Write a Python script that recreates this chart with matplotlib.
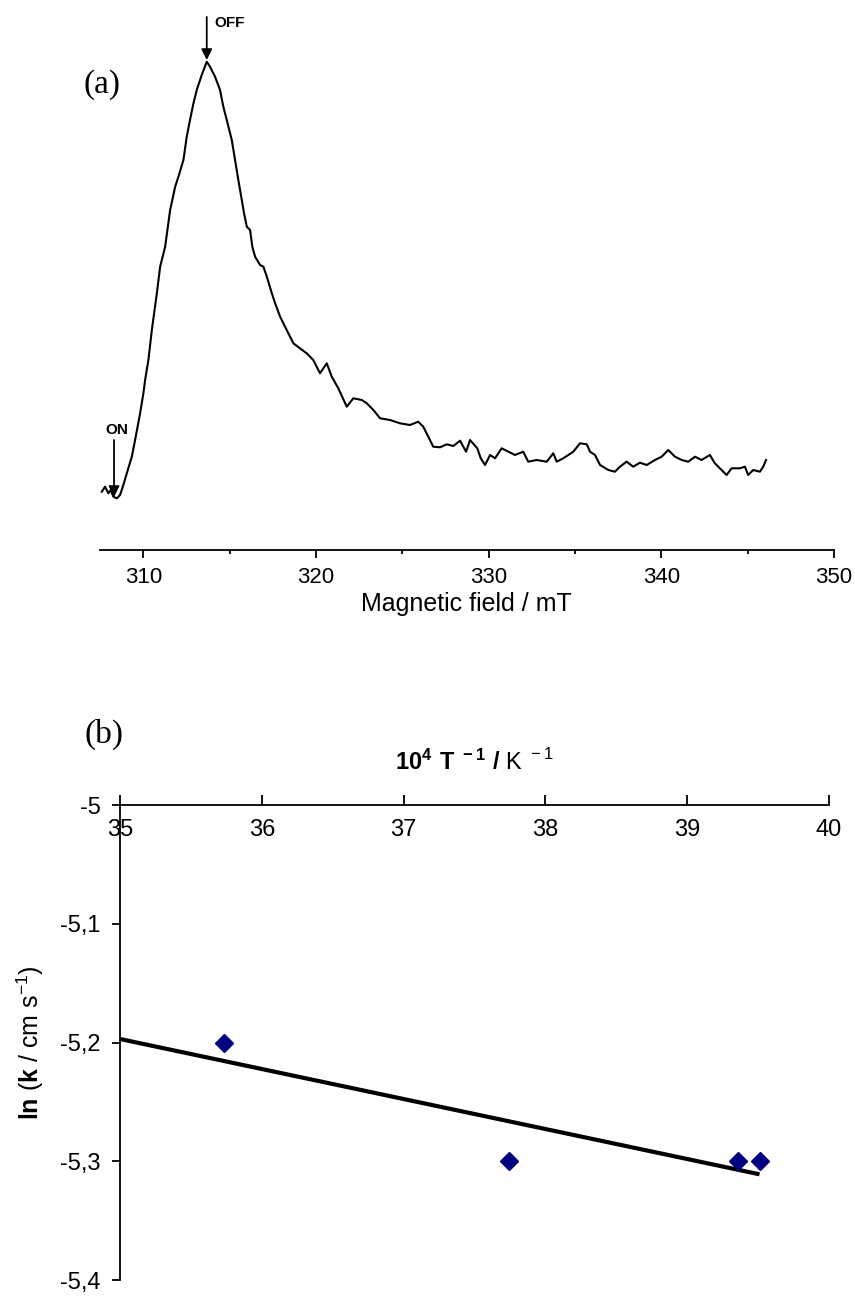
import numpy as np
import matplotlib.pyplot as plt
from matplotlib.ticker import MultipleLocator, FuncFormatter

plt.rcParams['font.family'] = ['Liberation Sans', 'DejaVu Sans']
plt.rcParams['mathtext.fontset'] = 'custom'
plt.rcParams['mathtext.rm'] = 'Liberation Sans'
plt.rcParams['mathtext.bf'] = 'Liberation Sans:bold'

# (a) signal vs magnetic field (arbitrary units)
field = [307.59, 307.78, 307.97, 308.11, 308.26, 308.46, 308.65, 308.84, 309.04, 309.33,
         309.52, 309.81, 310.00, 310.10, 310.29, 310.49, 310.78, 310.97, 311.26, 311.55,
         311.84, 312.03, 312.32, 312.51, 312.70, 312.90, 313.09, 313.38, 313.67,
         313.86, 314.15, 314.44, 314.63, 314.83, 315.12, 315.31, 315.50, 315.70, 315.83,
         315.99, 316.18, 316.31, 316.47, 316.76, 316.95, 317.15, 317.44, 317.63, 317.92,
         318.30, 318.69, 319.07, 319.46, 319.84, 320.23, 320.62, 320.91, 321.29, 321.78,
         322.16, 322.65, 322.94, 323.32, 323.71, 324.29,
         324.86, 325.44, 325.92, 326.21, 326.50, 326.79, 327.18, 327.57, 327.95, 328.34,
         328.69, 328.92, 329.34, 329.54, 329.79, 330.08, 330.37, 330.75, 331.14, 331.52,
         332.00, 332.29, 332.78, 333.36, 333.74, 333.94, 334.32, 334.90, 335.29, 335.68,
         335.87, 336.16, 336.45, 336.93, 337.31, 337.60, 337.99, 338.37, 338.76, 339.15,
         339.63, 340.02, 340.40, 340.79, 341.18, 341.56, 341.95, 342.33, 342.81, 343.10,
         343.39, 343.78, 344.07, 344.55, 344.84, 345.03, 345.32, 345.71, 345.90, 346.06]
signal = [57.3, 62.3, 55.7, 59, 52.3, 50.7, 54, 64, 75.7, 92.3,
          109, 135.7, 155.7, 169, 189, 219, 255.7, 282.3, 302.3, 339,
          362.3, 372.3, 389, 412.3, 429, 445.7, 459, 474, 487.3,
          482.3, 472.3, 459, 442.3, 429, 409, 389, 369, 349, 335.7,
          322.3, 319, 302.3, 292.3, 284, 282.3, 272.3, 255.7, 245.7, 232.3,
          219, 205.7, 200.7, 195.7, 189, 175.7, 185.7, 172.3, 160.7, 142.3,
          150.7, 149, 145.7, 139, 130.7, 129,
          125.7, 124, 127.3, 122.3, 112.3, 102.3, 101.7, 104.7, 103, 108.3,
          97.3, 109, 100.7, 90.7, 84, 94, 90.7, 100.7, 97.3, 94,
          97.3, 87.3, 89, 87.3, 95.7, 87.3, 90.7, 97.3, 105.7, 104.7,
          97.3, 94, 84, 79, 77.3, 82.3, 87.3, 82.3, 86.3, 84,
          89, 92.3, 99, 92.3, 89, 87.3, 92.3, 89, 94, 85.7,
          80.7, 74, 80.7, 80.7, 82.3, 74, 79, 77.3, 82.3, 89]

on_field, off_field = 308.30, 313.67

# (b) ln k vs 10^4/T
inv_T = [35.73, 37.74, 39.36, 39.51]
ln_k = [-5.2, -5.3, -5.3, -5.3]

W, H = 855, 1296
fig = plt.figure(figsize=(W / 100, H / 100), dpi=100)

# ---- panel (a)
axa = fig.add_axes([99.7 / W, 1 - 550 / H, (834 - 99.7) / W, 550 / H])
axa.plot(field, signal, color='k', lw=1.5)
axa.set_xlim(307.47, 350)
axa.set_ylim(-1, 549)
for s in ['left', 'right', 'top']:
    axa.spines[s].set_visible(False)
axa.spines['bottom'].set_linewidth(1.3)
axa.set_yticks([])
axa.xaxis.set_major_locator(MultipleLocator(10))
axa.xaxis.set_minor_locator(MultipleLocator(5))
axa.tick_params(axis='x', which='major', direction='out', length=6, width=1.3, labelsize=16, pad=6)
axa.tick_params(axis='x', which='minor', direction='out', length=3, width=1.3)
axa.set_xlabel('Magnetic field / mT', fontsize=18, labelpad=3)

arrow = dict(arrowstyle='-|>', color='k', lw=1.3, mutation_scale=16, shrinkA=0, shrinkB=0)
axa.annotate('', xy=(off_field, 489), xytext=(off_field, 532), arrowprops=arrow)
axa.annotate('', xy=(on_field, 52), xytext=(on_field, 109), arrowprops=arrow)
axa.text(off_field + 0.45, 526, 'OFF', fontsize=11, fontweight='bold', va='center', ha='left')
axa.text(on_field + 0.15, 112, 'ON', fontsize=11, fontweight='bold', va='bottom', ha='center')

fig.text(102 / W, 1 - 85 / H, '(a)', fontsize=24, family='Liberation Serif', ha='center', va='center')

# ---- panel (b)
axb = fig.add_axes([120 / W, 1 - 1280 / H, 709 / W, 475 / H])
axb.plot(inv_T, ln_k, 'D', color='#000080', ms=9, mec='#000080', zorder=3)
fit = np.polyfit(inv_T, ln_k, 1)
xs = np.array([35, max(inv_T)])
axb.plot(xs, np.polyval(fit, xs), color='k', lw=3, solid_capstyle='butt')
axb.set_xlim(35, 40)
axb.set_ylim(-5.4, -5)
axb.spines['right'].set_visible(False)
axb.spines['top'].set_visible(False)
axb.spines['bottom'].set_position(('data', -5))
axb.spines['bottom'].set_linewidth(1.3)
axb.spines['left'].set_linewidth(1.3)
axb.xaxis.set_major_locator(MultipleLocator(1))
axb.yaxis.set_major_locator(MultipleLocator(0.1))
axb.yaxis.set_major_formatter(FuncFormatter(lambda v, p: ('%g' % round(v, 2)).replace('.', ',')))
axb.tick_params(axis='x', direction='in', length=7, width=1.3, labelsize=17, pad=10)
axb.tick_params(axis='y', direction='out', length=6, width=1.3, labelsize=17, pad=8)
axb.set_ylabel(r'$\mathbf{ln}$ ($\mathbf{k}$ / cm s$^{-1}$)', fontsize=18, labelpad=10)

fig.text(474 / W, 1 - 762 / H, r'$\mathbf{10^4\ T^{\ -1}\ /}$ K$^{\ -1}$', fontsize=17,
         ha='center', va='center')
fig.text(104 / W, 1 - 734 / H, '(b)', fontsize=24, family='Liberation Serif', ha='center', va='center')

fig.savefig('out.png', dpi=100)
